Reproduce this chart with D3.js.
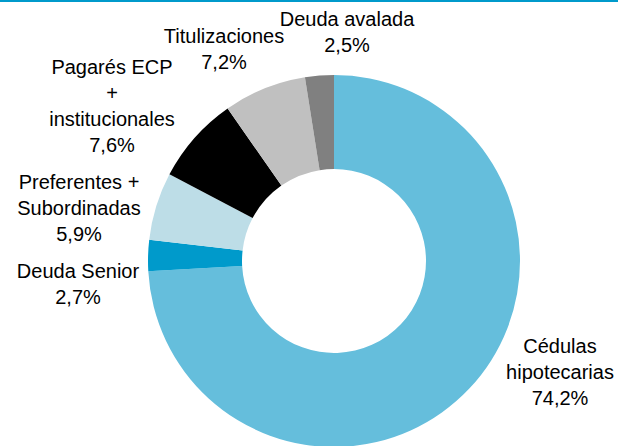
<!DOCTYPE html>
<html>
<head>
<meta charset="utf-8">
<script src="https://cdn.jsdelivr.net/npm/d3@7"></script>
<style>
  body { margin: 0; background: #fff; }
  svg { display: block; }
  .lbl { font-family: "Liberation Sans", Arial, sans-serif; font-size: 20px; fill: #000; }
</style>
</head>
<body>
<div id="chart"></div>
<script>
// Data
var categories = ["Cédulas hipotecarias", "Deuda Senior", "Preferentes + Subordinadas",
                  "Pagarés ECP + institucionales", "Titulizaciones", "Deuda avalada"];
var shares = [74.2, 2.7, 5.9, 7.6, 7.2, 2.5];
var labelLines = [
  ["Cédulas", "hipotecarias", "74,2%"],
  ["Deuda Senior", "2,7%"],
  ["Preferentes +", "Subordinadas", "5,9%"],
  ["Pagarés ECP", "+", "institucionales", "7,6%"],
  ["Titulizaciones", "7,2%"],
  ["Deuda avalada", "2,5%"]
];

// Styling / layout
var colors = ["#65bedc", "#009acb", "#bddde7", "#000000", "#c0c0c0", "#808080"];
var labelPos = [[560, 353], [78, 278], [79, 189], [112, 74], [224, 43], [347, 26]];
var lineStep = 26;

var svgWidth = 618;
var svgHeight = 446;
var cx = 334, cy = 261;
var outerR = 186, innerR = 92;

var svg = d3.select("#chart")
  .append("svg")
  .attr("width", svgWidth)
  .attr("height", svgHeight);

// top rule
svg.append("rect")
  .attr("x", 0).attr("y", 0)
  .attr("width", svgWidth).attr("height", 2)
  .attr("fill", "#009acb");

var pie = d3.pie().sort(null).value(d => d);
var arc = d3.arc().innerRadius(innerR).outerRadius(outerR);

var slices = pie(shares);

svg.append("g")
  .attr("transform", `translate(${cx}, ${cy})`)
  .selectAll("path")
  .data(slices)
  .enter()
  .append("path")
  .attr("d", arc)
  .attr("fill", (d, i) => colors[i]);

// labels
var labels = svg.append("g");
labelLines.forEach(function(lines, i) {
  var t = labels.append("text")
    .attr("class", "lbl")
    .attr("text-anchor", "middle")
    .attr("x", labelPos[i][0])
    .attr("y", labelPos[i][1]);
  lines.forEach(function(s, j) {
    t.append("tspan")
      .attr("x", labelPos[i][0])
      .attr("dy", j === 0 ? 0 : lineStep)
      .text(s);
  });
});
</script>
</body>
</html>
